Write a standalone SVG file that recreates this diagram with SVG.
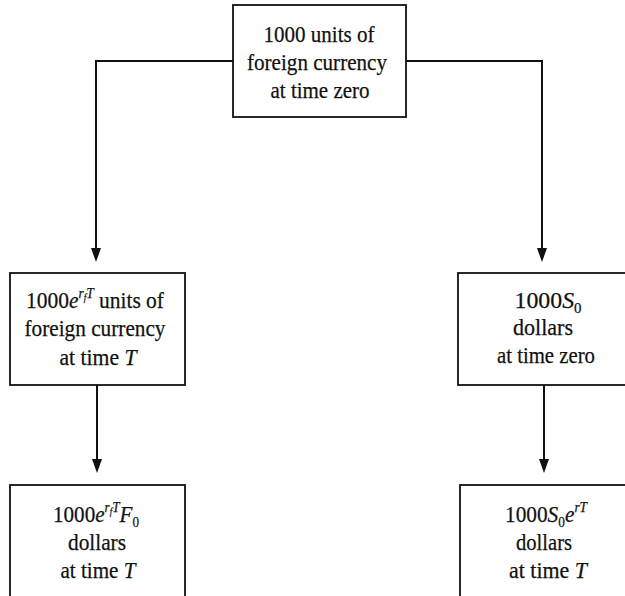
<svg xmlns="http://www.w3.org/2000/svg" width="625" height="596" viewBox="0 0 625 596">
<style>
.box{fill:#fff;stroke:#111;stroke-width:1.8}
.t{font-family:"Liberation Serif","Times New Roman",serif;font-size:24px;fill:#111;stroke:#111;stroke-width:0.25;text-anchor:middle}
.i{font-style:italic}
.conn{fill:none;stroke:#111;stroke-width:2}
</style>
<defs>
<marker id="ah" viewBox="0 0 14 10" refX="8" refY="5" markerWidth="14" markerHeight="10" markerUnits="userSpaceOnUse" orient="auto">
<path d="M0,0 L14,5 L0,10 z" fill="#111"/>
</marker>
</defs>
<rect width="625" height="596" fill="#fff"/>
<g id="connectors">
<path class="conn" d="M233,61 H96 V256" marker-end="url(#ah)"/>
<path class="conn" d="M406,61 H542 V256" marker-end="url(#ah)"/>
<path class="conn" d="M97,385 V467" marker-end="url(#ah)"/>
<path class="conn" d="M544,385 V467" marker-end="url(#ah)"/>
</g>
<g id="n-top">
<rect class="box" x="233" y="5" width="173" height="112"/>
<text class="t" x="319" y="42" textLength="111" lengthAdjust="spacingAndGlyphs">1000 units of</text>
<text class="t" x="317" y="70" textLength="140" lengthAdjust="spacingAndGlyphs">foreign currency</text>
<text class="t" x="320" y="98" textLength="99" lengthAdjust="spacingAndGlyphs">at time zero</text>
</g>
<g id="n-foreignT">
<rect class="box" x="10" y="273" width="175" height="112"/>
<text class="t" x="95" y="308" textLength="138" lengthAdjust="spacingAndGlyphs">1000<tspan class="i">e</tspan><tspan class="i" font-size="15" dy="-10">r</tspan><tspan class="i" font-size="10" dy="3">f</tspan><tspan class="i" font-size="15" dy="-3">T</tspan><tspan dy="10"> units of</tspan></text>
<text class="t" x="95" y="336" textLength="141" lengthAdjust="spacingAndGlyphs">foreign currency</text>
<text class="t" x="98" y="365" textLength="77" lengthAdjust="spacingAndGlyphs">at time <tspan class="i">T</tspan></text>
</g>
<g id="n-dollars0">
<rect class="box" x="458" y="273" width="180" height="112"/>
<text class="t" x="548" y="308" textLength="67" lengthAdjust="spacingAndGlyphs">1000<tspan class="i">S</tspan><tspan font-size="15" dy="5">0</tspan></text>
<text class="t" x="543" y="335" textLength="60" lengthAdjust="spacingAndGlyphs">dollars</text>
<text class="t" x="546" y="363" textLength="98" lengthAdjust="spacingAndGlyphs">at time zero</text>
</g>
<g id="n-forward">
<rect class="box" x="10" y="485" width="175" height="125"/>
<text class="t" x="96" y="522" textLength="86" lengthAdjust="spacingAndGlyphs">1000<tspan class="i">e</tspan><tspan class="i" font-size="15" dy="-10">r</tspan><tspan class="i" font-size="10" dy="3">f</tspan><tspan class="i" font-size="15" dy="-3">T</tspan><tspan class="i" dy="10">F</tspan><tspan font-size="15" dy="5">0</tspan></text>
<text class="t" x="97" y="550" textLength="58" lengthAdjust="spacingAndGlyphs">dollars</text>
<text class="t" x="98" y="578" textLength="75" lengthAdjust="spacingAndGlyphs">at time <tspan class="i">T</tspan></text>
</g>
<g id="n-dollarsT">
<rect class="box" x="460" y="485" width="180" height="125"/>
<text class="t" x="546" y="522" textLength="82" lengthAdjust="spacingAndGlyphs">1000<tspan class="i">S</tspan><tspan font-size="15" dy="5">0</tspan><tspan class="i" dy="-5">e</tspan><tspan class="i" font-size="15" dy="-10">rT</tspan></text>
<text class="t" x="544" y="550" textLength="56" lengthAdjust="spacingAndGlyphs">dollars</text>
<text class="t" x="548" y="578" textLength="78" lengthAdjust="spacingAndGlyphs">at time <tspan class="i">T</tspan></text>
</g>
</svg>
